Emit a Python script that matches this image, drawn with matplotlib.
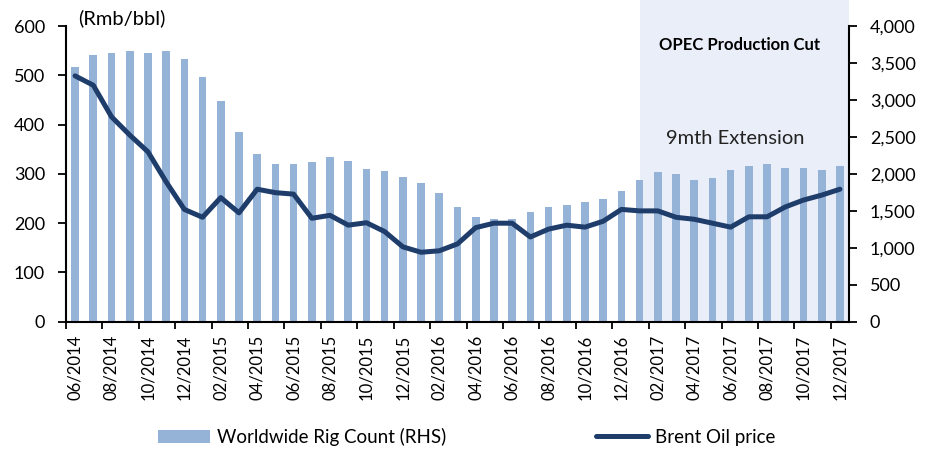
import matplotlib
matplotlib.use("Agg")
import matplotlib.pyplot as plt
from matplotlib.patches import Rectangle
from matplotlib.lines import Line2D
from matplotlib.patches import Patch
import matplotlib.transforms as mtransforms
from matplotlib.ticker import FuncFormatter, FixedLocator

plt.rcParams['font.family'] = ['Lato', 'DejaVu Sans']

months = ["06/2014", "07/2014", "08/2014", "09/2014", "10/2014", "11/2014", "12/2014",
          "01/2015", "02/2015", "03/2015", "04/2015", "05/2015", "06/2015", "07/2015",
          "08/2015", "09/2015", "10/2015", "11/2015", "12/2015", "01/2016", "02/2016",
          "03/2016", "04/2016", "05/2016", "06/2016", "07/2016", "08/2016", "09/2016",
          "10/2016", "11/2016", "12/2016", "01/2017", "02/2017", "03/2017", "04/2017",
          "05/2017", "06/2017", "07/2017", "08/2017", "09/2017", "10/2017", "11/2017",
          "12/2017"]

rig_count = [3450, 3607, 3640, 3663, 3640, 3663, 3554, 3311, 2990, 2562, 2265, 2130,
             2130, 2157, 2232, 2178, 2070, 2043, 1962, 1881, 1745, 1556, 1421, 1394,
             1394, 1480, 1556, 1583, 1615, 1664, 1775, 1913, 2021, 1994, 1913, 1940,
             2048, 2102, 2130, 2075, 2075, 2048, 2102]

brent = [499, 480, 416, 379, 345, 284, 228, 212, 252, 221, 269, 262, 259, 210, 216,
         196, 201, 183, 152, 141, 144, 158, 191, 200, 200, 172, 188, 196, 192, 204,
         228, 225, 225, 212, 208, 200, 192, 213, 213, 233, 247, 257, 269]

shade_start = "01/2017"

bar_color = "#95B3D7"
line_color = "#1F3D6B"
shade_color = "#EAEEF8"

fig = plt.figure(figsize=(9.33, 4.5), dpi=100)
ax = fig.add_axes([0.0707, 0.285, 0.8393, 0.657])
ax2 = ax.twinx()

x = list(range(len(months)))
n = len(months)

# shading
s = months.index(shade_start)
trans = mtransforms.blended_transform_factory(ax.transData, ax.transAxes)
ax.add_patch(Rectangle((s, 0), (n - 0.5) - s, 1.3, transform=trans,
                       facecolor=shade_color, edgecolor='none', zorder=0, clip_on=False))

ax.bar(x, rig_count, width=0.42, color=bar_color, zorder=2)
ax2.plot(x, brent, color=line_color, lw=3.6, solid_capstyle='round',
         solid_joinstyle='round', zorder=3)

ax.set_xlim(-0.5, n - 0.5)
ax.set_ylim(0, 4000)
ax2.set_ylim(0, 600)

# bar axis on right, line axis on left
ax.yaxis.tick_right()
ax2.yaxis.tick_left()
ax.set_yticks(range(0, 4001, 500))
ax.yaxis.set_major_formatter(FuncFormatter(lambda v, p: f"{int(v):,}"))
ax2.set_yticks(range(0, 601, 100))

for a in (ax, ax2):
    for sp in a.spines.values():
        sp.set_visible(False)
ax.spines['bottom'].set_visible(True)
ax.spines['bottom'].set_linewidth(1.5)
ax.spines['right'].set_visible(True)
ax.spines['right'].set_linewidth(1.5)
ax2.spines['left'].set_visible(True)
ax2.spines['left'].set_linewidth(1.5)
ax.patch.set_visible(False)

ax.tick_params(axis='y', which='major', direction='out', length=6, width=1.3,
               labelsize=13, pad=9, colors='black')
ax2.tick_params(axis='y', which='major', direction='out', length=6, width=1.3,
                labelsize=13, pad=9, colors='black')

# x ticks: boundaries every 2 categories, labels at even category centres
ax.xaxis.set_major_locator(FixedLocator([i - 0.5 for i in range(0, n + 1, 2)]))
ax.xaxis.set_major_formatter(FuncFormatter(lambda v, p: ""))
ax.xaxis.set_minor_locator(FixedLocator(list(range(0, n, 2))))
ax.set_xticklabels([months[i] for i in range(0, n, 2)], minor=True, rotation=90)
ax.tick_params(axis='x', which='major', direction='out', length=5, width=1.3)
ax.tick_params(axis='x', which='minor', length=0, labelsize=12, pad=9)

fig.text(78 / 933, 1 - 18 / 450, "(Rmb/bbl)", fontsize=14.5, ha='left', va='center')
ax.text(36.5, 3740, "OPEC Production Cut", fontsize=12, fontweight='bold',
        ha='center', va='center', zorder=5)
ax.text(36.25, 2480, "9mth Extension", fontsize=14.5, ha='center', va='center',
        color='#222222', zorder=5)

handles = [Patch(facecolor=bar_color, edgecolor='none', label="Worldwide Rig Count (RHS)"),
           Line2D([0], [0], color=line_color, lw=3.6, solid_capstyle='round',
                  label="Brent Oil price")]
fig.legend(handles=handles, loc='center', bbox_to_anchor=(0.5, 1 - 437 / 450),
           ncol=2, frameon=False, fontsize=13.5, columnspacing=8.0,
           handlelength=2.8, handletextpad=0.35)

fig.savefig("out.png", dpi=100)
